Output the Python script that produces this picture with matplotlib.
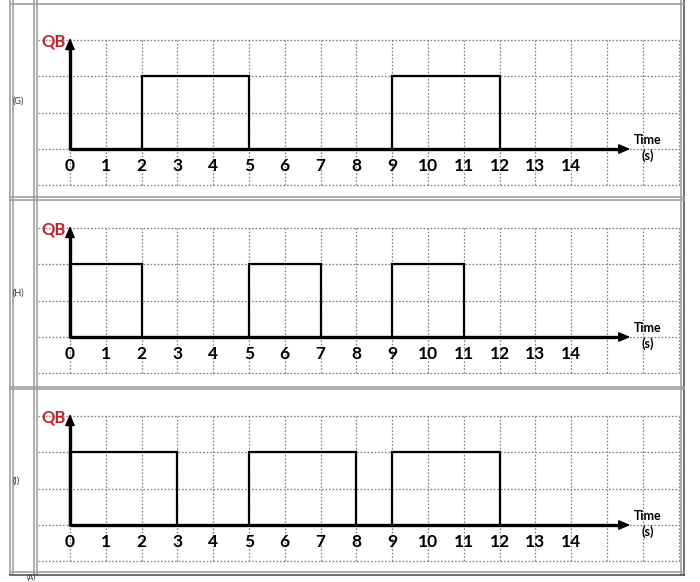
import matplotlib.pyplot as plt
from matplotlib.lines import Line2D

plt.rcParams["font.family"] = ["Lato", "DejaVu Sans"]

# chart data
row_labels = ["(G)", "(H)", "(I)"]
pulses_g = [(2, 5), (9, 12)]
pulses_h = [(0, 2), (5, 7), (9, 11)]
pulses_i = [(0, 3), (5, 8), (9, 12)]
all_pulses = [pulses_g, pulses_h, pulses_i]
high_level = 2
time_ticks = list(range(0, 15))
grid_x = list(range(0, 18))
grid_y = [-1, 0, 1, 2, 3]

W, H = 700, 582
fig = plt.figure(figsize=(7, 5.82), dpi=100)

# table cells in pixels: top, bottom, y of the time axis
cells = [(6, 196, 149), (200, 386, 337), (390, 572, 525)]
left, right = 37, 681
t0_px, unit_x, unit_y = 70, 35.8, 36.4

grid_col = "#858585"

for label, pulses, (top, bot, y0) in zip(row_labels, all_pulses, cells):
    ax = fig.add_axes([left / W, 1 - bot / H, (right - left) / W, (bot - top) / H])
    ax.set_xlim((left - t0_px) / unit_x, (right - t0_px) / unit_x)
    ax.set_ylim(-(bot - y0) / unit_y, (y0 - top) / unit_y)
    ax.axis("off")

    # dotted grid
    ax.vlines(grid_x, -1, 3, colors=grid_col, linestyles=(0, (1.4, 1.4)), lw=0.9)
    ax.hlines(grid_y, -0.9, 17, colors=grid_col, linestyles=(0, (1.4, 1.4)), lw=0.9)

    # signal
    for s, e in pulses:
        ax.plot([s, s, e, e], [0, high_level, high_level, 0],
                color="black", lw=1.6, solid_joinstyle="miter")

    # axes with arrows
    ax.plot([0, 15.3], [0, 0], color="black", lw=2.4, solid_capstyle="butt")
    ax.plot([0, 0], [-0.03, 2.8], color="black", lw=2.4, solid_capstyle="butt")
    ax.annotate("", xy=(15.65, 0), xytext=(15.2, 0),
                arrowprops=dict(arrowstyle="-|>,head_length=0.7,head_width=0.3",
                                color="black", lw=1, shrinkA=0, shrinkB=0))
    ax.annotate("", xy=(0, 3.05), xytext=(0, 2.7),
                arrowprops=dict(arrowstyle="-|>,head_length=0.7,head_width=0.3",
                                color="black", lw=1, shrinkA=0, shrinkB=0))

    for t in time_ticks:
        ax.text(t, -0.47, str(t), ha="center", va="center",
                fontsize=12.5, fontweight="bold")

    ax.text(16.15, 0.03, "Time\n(s)", ha="center", va="center",
            fontsize=9, fontweight="bold", linespacing=1.35)
    ax.text(-0.13, 2.95, "QB", color="#c0222c", ha="right", va="center",
            fontsize=12, fontweight="bold")

    fig.text(13 / W, 1 - (top + bot) / 2 / H, label, ha="left", va="center",
             fontsize=6.5, color="#333333")

# table borders
def hline(y, x1=10, x2=684, c="#a0a0a0", lw=1.2):
    fig.add_artist(Line2D([x1 / W, x2 / W], [1 - y / H, 1 - y / H], color=c, lw=lw))

def vline(x, y1=0, y2=574.5, c="#a0a0a0", lw=1.2):
    fig.add_artist(Line2D([x / W, x / W], [1 - y1 / H, 1 - y2 / H], color=c, lw=lw))

for x in [10, 12.5, 34, 36.5, 681]:
    vline(x)
vline(684, c="#555555")
hline(4)
for y in [197, 199.5, 386.5, 389, 572]:
    hline(y)
hline(574.5, c="#555555")

fig.text(27 / W, 1 - 581 / H, "(A)", ha="left", va="bottom", fontsize=5.5, color="#333333")

fig.savefig("out.png", dpi=100)
plt.close()
